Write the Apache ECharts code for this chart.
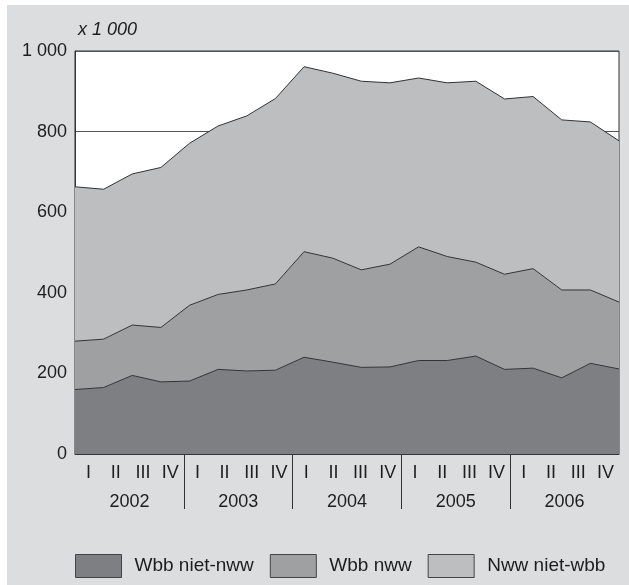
<!DOCTYPE html>
<html>
<head>
<meta charset="utf-8">
<script src="https://cdn.jsdelivr.net/npm/echarts@6/dist/echarts.min.js"></script>
<style>
html,body{margin:0;padding:0;background:#fff;}
#bg{position:absolute;left:7px;top:5px;width:622px;height:580px;background:#dcdddf;}
#chart{position:absolute;left:0;top:0;width:629px;height:585px;}
</style>
</head>
<body>
<div id="bg"></div>
<div id="chart"></div>
<script>
const years = ['2002','2003','2004','2005','2006'];
const quarters = ['I','II','III','IV'];
const periods = [];
years.forEach(y => quarters.forEach(q => periods.push(y + ' ' + q)));

const wbbNietNww = [160,165,195,179,181,210,206,208,240,228,215,216,232,232,243,210,213,189,225,211];
const wbbNww     = [120,120,125,135,188,186,201,214,262,258,242,255,282,258,233,236,247,218,182,166];
const nwwNietWbb = [383,372,375,397,402,418,432,460,459,459,468,450,419,431,449,435,427,422,417,400];

const yTicks = {0:'0',200:'200',400:'400',600:'600',800:'800',1000:'1 000'};

const colDark = '#7e7f82';
const colMid = '#9fa0a2';
const colLight = '#bdbec0';
const lineCol = '#333333';
const txt = '#1e1e1e';
const font = 'Liberation Sans, Arial, Helvetica, sans-serif';

function areaSeries(name, data, color, z) {
  return {
    name: name, type: 'line', stack: 'total', data: data,
    xAxisIndex: 0, yAxisIndex: 0,
    symbol: 'none', z: z,
    color: color,
    lineStyle: {color: lineCol, width: 1},
    areaStyle: {color: color, opacity: 1},
    emphasis: {disabled: true}
  };
}

const chart = echarts.init(document.getElementById('chart'));
chart.setOption({
  animation: false,
  backgroundColor: 'transparent',
  textStyle: {fontFamily: font},
  title: {
    text: 'x 1 000', left: 78, top: 21, padding: 0,
    textStyle: {fontSize: 18, fontStyle: 'italic', fontWeight: 'normal', color: txt, fontFamily: font}
  },
  legend: {
    left: 75, top: 554, padding: 0, icon: 'rect', itemWidth: 46, itemHeight: 23, itemGap: 16,
    selectedMode: false,
    itemStyle: {borderColor: '#444', borderWidth: 1},
    textStyle: {fontSize: 19, color: txt, fontFamily: font, padding: [7, 0, 0, 8]},
    data: ['Wbb niet-nww', 'Wbb nww', 'Nww niet-wbb']
  },
  grid: [
    {left: 75, right: 10, top: 51, bottom: 131, show: true, backgroundColor: '#ffffff', borderColor: lineCol, borderWidth: 1},
    {left: 75, right: 10, top: 454, height: 55, show: false}
  ],
  xAxis: [
    {type: 'category', gridIndex: 0, data: periods, boundaryGap: false, position: 'bottom',
     axisLine: {show: true, lineStyle: {color: lineCol, width: 1}}, axisTick: {show: false}, axisLabel: {show: false}, splitLine: {show: false}},
    {type: 'category', gridIndex: 0, data: periods, boundaryGap: true, position: 'bottom',
     axisLine: {show: false}, axisTick: {show: false}, splitLine: {show: false},
     axisLabel: {interval: 0, margin: 10, fontSize: 18, color: txt, fontFamily: font, formatter: v => v.split(' ')[1]}},
    {type: 'category', gridIndex: 0, data: years, boundaryGap: true, position: 'bottom',
     axisLine: {show: false}, axisTick: {show: false}, splitLine: {show: false},
     axisLabel: {interval: 0, margin: 39, fontSize: 18, color: txt, fontFamily: font}},
    {type: 'category', gridIndex: 1, data: years, boundaryGap: true, position: 'bottom',
     axisLine: {show: false}, axisTick: {show: false}, axisLabel: {show: false},
     splitLine: {show: true, showMinLine: false, showMaxLine: false, lineStyle: {color: lineCol, width: 1}}}
  ],
  yAxis: [
    {type: 'value', gridIndex: 0, min: 0, max: 1000, interval: 200,
     axisLine: {show: true, lineStyle: {color: lineCol, width: 1}}, axisTick: {show: false},
     splitLine: {show: true, lineStyle: {color: '#555', width: 1}},
     axisLabel: {margin: 8, fontSize: 18, color: txt, fontFamily: font, formatter: v => yTicks[v] !== undefined ? yTicks[v] : ''}},
    {type: 'value', gridIndex: 1, show: false, min: 0, max: 1}
  ],
  series: [
    areaSeries('Wbb niet-nww', wbbNietNww, colDark, 5),
    areaSeries('Wbb nww', wbbNww, colMid, 4),
    areaSeries('Nww niet-wbb', nwwNietWbb, colLight, 3)
  ]
});
</script>
</body>
</html>
